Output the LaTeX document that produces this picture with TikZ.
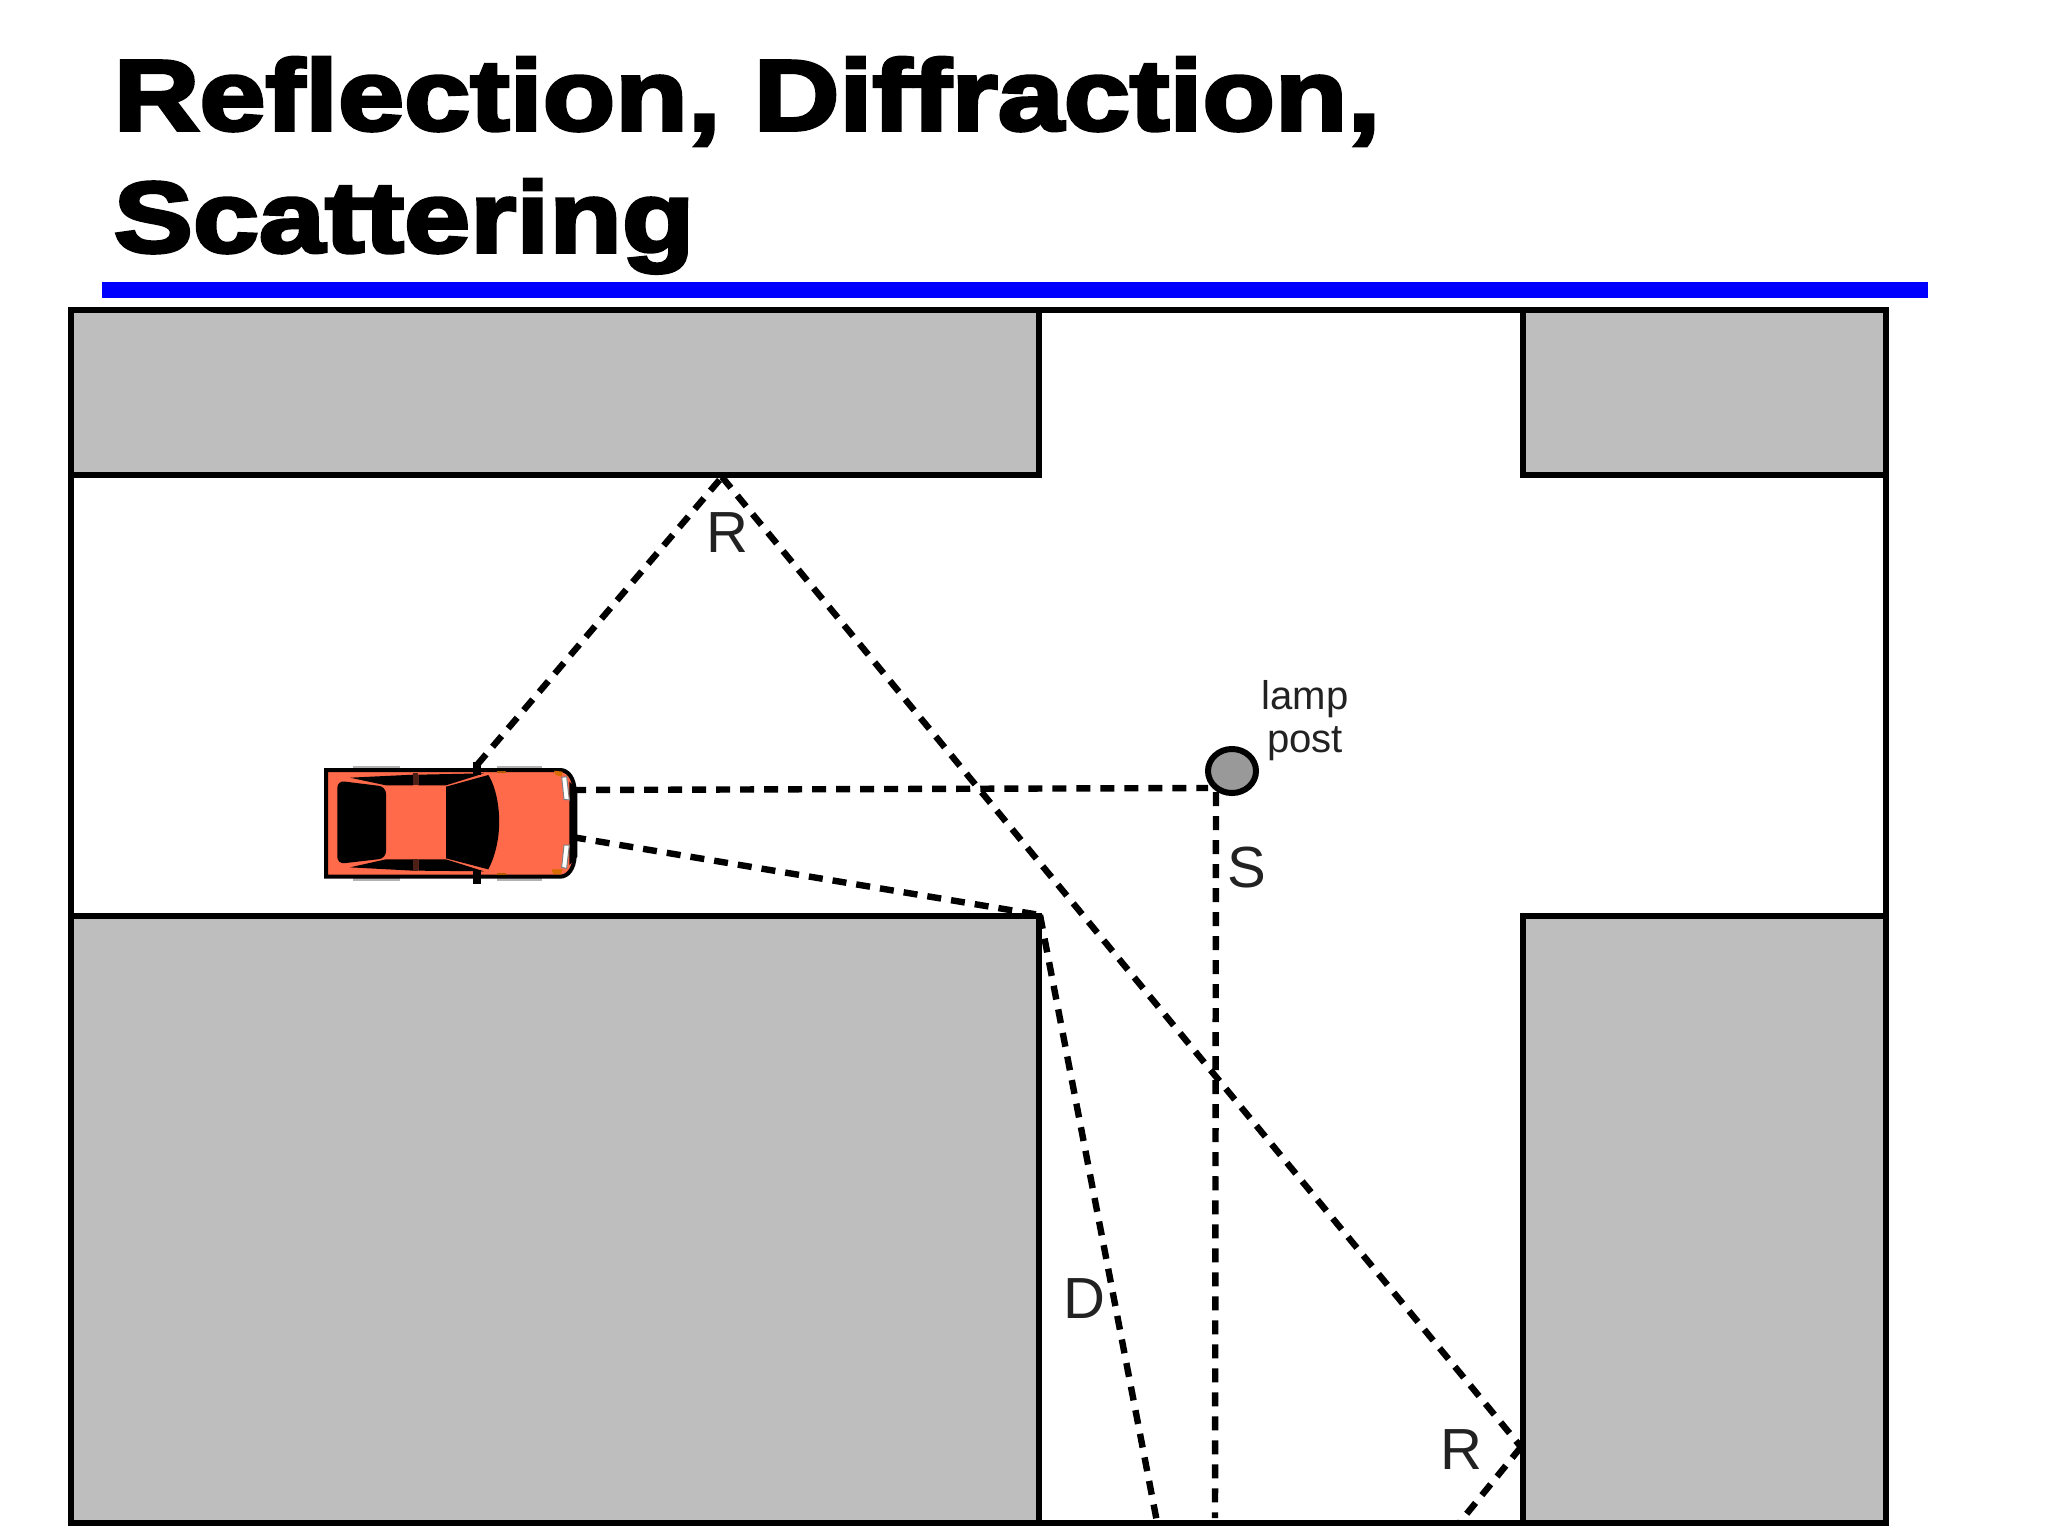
\documentclass[tikz,border=0pt]{standalone}
\usepackage{fontspec}
\setmainfont{Liberation Sans}
\newfontfamily\ttlfont[BoldFeatures={FakeBold=3.6,FakeStretch=1.185}]{Liberation Sans}
\usetikzlibrary{shapes.geometric}
\definecolor{bldg}{HTML}{BEBEBE}
\definecolor{carbody}{HTML}{FF6A4A}
\definecolor{lampgray}{HTML}{999999}
\definecolor{labelink}{HTML}{222222}
\tikzset{
  building/.style={draw=black,fill=bldg,line width=0.058cm},
  streetframe/.style={draw=black,line width=0.058cm},
  ray/.style={draw=black,line width=0.064cm,dash pattern=on 0.14cm off 0.1cm},
  titletext/.style={anchor=base west,inner sep=0pt,font=\ttlfont\bfseries\fontsize{28.5pt}{30pt}\selectfont},
  biglabel/.style={inner sep=0pt,text=labelink,font=\fontsize{16.5pt}{18pt}\selectfont},
  smalllabel/.style={inner sep=0pt,anchor=base,text=labelink,font=\fontsize{11.4pt}{12pt}\selectfont},
  lampdisc/.style={ellipse,draw=black,fill=lampgray,line width=0.06cm,minimum width=0.48cm,minimum height=0.44cm,inner sep=0pt},
  carblack/.style={fill=black,draw=none},
}
\begin{document}
\begin{tikzpicture}[x=0.01cm,y=-0.01cm]
\useasboundingbox (0,0) rectangle (2048,1536);
\fill[white] (0,0) rectangle (2048,1536);

% title
\node[titletext] (t1) at (113,130) {Reflection, Diffraction,};
\node[titletext] (t2) at (113,252) {Scattering};
\fill[blue] (102,282) rectangle (1928,298);

% buildings
\draw[building] (71,310) rectangle (1039,475);
\draw[building] (1523,310) rectangle (1886,475);
\draw[building] (71,916) rectangle (1039,1523);
\draw[building] (1523,916) rectangle (1886,1523);
\draw[streetframe] (71,310) rectangle (1886,1523);

% car (drawn in the coordinates of a 3x crop at 300,740)
\begin{scope}[shift={(300,740)},x=0.01cm/3,y=-0.01cm/3]
  \fill[gray!60] (160,78) rectangle (300,92);
  \fill[gray!60] (160,408) rectangle (300,422);
  \fill[gray!60] (590,78) rectangle (725,92);
  \fill[gray!60] (590,408) rectangle (725,422);
  \draw[fill=carbody,draw=black,line width=0.04cm] (78,90) -- (780,90)
     .. controls (805,90) and (822,115) .. (824,150) -- (824,350)
     .. controls (822,385) and (805,410) .. (780,410) -- (78,410) -- cycle;
  \fill[black] (808,125) -- (832,150) -- (832,350) -- (808,375) -- cycle;
  % rear window
  \fill[carblack,rounded corners=2pt] (112,122) -- (258,140) -- (258,355) -- (112,372) -- cycle;
  % windscreen
  \fill[carblack] (438,140) -- (565,105) .. controls (595,150) and (620,280) .. (565,388) -- (438,355) -- cycle;
  % side windows
  \fill[carblack] (150,113) -- (340,104) -- (340,136) -- (258,136) -- cycle;
  \fill[carblack] (355,104) -- (552,100) -- (438,136) -- (355,136) -- cycle;
  \fill[carblack] (150,382) -- (258,358) -- (340,358) -- (340,392) -- cycle;
  \fill[carblack] (355,358) -- (438,358) -- (552,394) -- (355,392) -- cycle;
  % posts
  \fill[black!70!carbody] (340,100) rectangle (355,136);
  \fill[black!70!carbody] (340,358) rectangle (355,392);
  \fill[black] (520,65) rectangle (543,104);
  \fill[black] (520,390) rectangle (543,432);
  % lights
  \fill[white] (785,112) -- (800,110) -- (808,180) -- (792,178) -- cycle;
  \draw[gray,line width=0.01cm] (785,112) -- (800,110) -- (808,180) -- (792,178) -- cycle;
  \fill[white] (792,315) -- (808,315) -- (800,385) -- (785,382) -- cycle;
  \draw[gray,line width=0.01cm] (792,315) -- (808,315) -- (800,385) -- (785,382) -- cycle;
  \fill[orange!85!black] (762,92) -- (788,95) -- (785,108) -- (768,106) -- cycle;
  \fill[orange!85!black] (755,388) -- (788,388) -- (782,402) -- (760,402) -- cycle;
  \fill[orange!70!black] (590,92) rectangle (618,100);
  \fill[orange!70!black] (590,398) rectangle (618,404);
\end{scope}

% named points
\coordinate (carroof) at (477,765);
\coordinate (carnose) at (572,790);
\coordinate (carlamp) at (572,837);
\coordinate (wall1) at (722,477);
\coordinate (wall2) at (1521,1447);
\coordinate (ground1) at (1460,1522);
\coordinate (corner) at (1040,915);
\coordinate (ground2) at (1157,1522);
\coordinate (ground3) at (1215,1518);

% lamp post
\node[lampdisc] (lamp) at (1232,771) {};
\coordinate (lampfoot) at (1216,792);
\coordinate (lampside) at (1208,788);

% rays
\draw[ray] (carnose) -- (lampside);
\draw[ray] (lampfoot) -- (ground3);
\draw[ray] (carroof) -- (wall1);
\draw[ray] (wall1) -- (wall2);
\draw[ray] (wall2) -- (ground1);
\draw[ray] (carlamp) -- (corner);
\draw[ray] (corner) -- (ground2);

% labels
\node[biglabel] (r1) at (727,533) {R};
\node[biglabel] (r2) at (1461,1450) {R};
\node[biglabel] (s) at (1247,868) {S};
\node[biglabel] (d) at (1084,1299) {D};
\node[smalllabel] (lamptext) at (1305,709) {lamp};
\node[smalllabel] (posttext) at (1305,752) {post};
\end{tikzpicture}
\end{document}
